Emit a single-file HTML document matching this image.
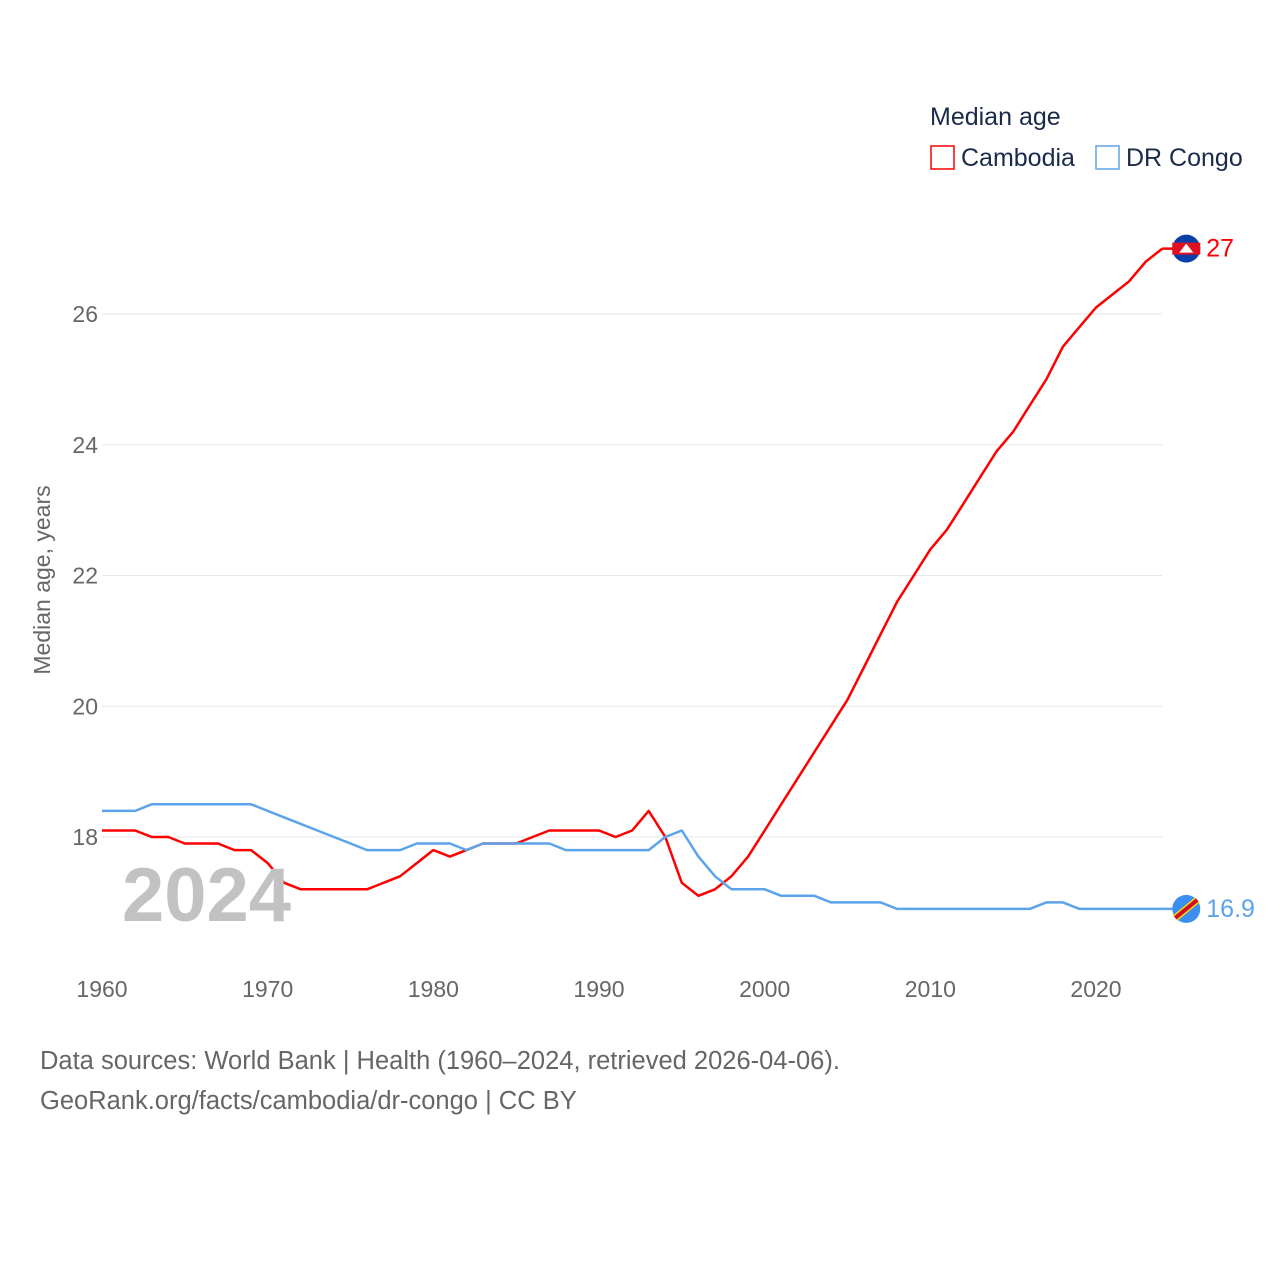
<!DOCTYPE html>
<html><head><meta charset="utf-8"><style>
body{margin:0;background:#fff;font-family:"Liberation Sans",sans-serif}
svg text{font-family:"Liberation Sans",sans-serif}
</style></head><body>
<svg width="1280" height="1280" viewBox="0 0 1280 1280">
<g id="grid"></g><g id="axes"></g><g id="lines"></g>
<text x="122" y="921" font-size="76" font-weight="bold" fill="#c2c2c2">2024</text>
<text transform="translate(50,580) rotate(-90)" text-anchor="middle" font-size="23" fill="#666">Median age, years</text>
<text x="930" y="125" font-size="25" fill="#1a2a4a">Median age</text>
<g><rect x="931" y="146" width="23" height="23" fill="none" stroke="#ff0000" stroke-width="1.5"/><text x="961" y="166" font-size="25" fill="#1a2a4a">Cambodia</text></g>
<g><rect x="1096" y="146" width="23" height="23" fill="none" stroke="#5ba4ec" stroke-width="1.5"/><text x="1126" y="166" font-size="25" fill="#1a2a4a">DR Congo</text></g>
<text x="40" y="1069" font-size="25.5" fill="#666">Data sources: World Bank | Health (1960–2024, retrieved 2026-04-06).</text>
<text x="40" y="1109" font-size="25.5" fill="#666">GeoRank.org/facts/cambodia/dr-congo | CC BY</text>
</svg>
<script>
const years=[];for(let y=1960;y<=2024;y++)years.push(y);
const cambodia=[18.1,18.1,18.1,18.0,18.0,17.9,17.9,17.9,17.8,17.8,17.6,17.3,17.2,17.2,17.2,17.2,17.2,17.3,17.4,17.6,17.8,17.7,17.8,17.9,17.9,17.9,18.0,18.1,18.1,18.1,18.1,18.0,18.1,18.4,18.0,17.3,17.1,17.2,17.4,17.7,18.1,18.5,18.9,19.3,19.7,20.1,20.6,21.1,21.6,22.0,22.4,22.7,23.1,23.5,23.9,24.2,24.6,25.0,25.5,25.8,26.1,26.3,26.5,26.8,27.0];
const drcongo=[18.4,18.4,18.4,18.5,18.5,18.5,18.5,18.5,18.5,18.5,18.4,18.3,18.2,18.1,18.0,17.9,17.8,17.8,17.8,17.9,17.9,17.9,17.8,17.9,17.9,17.9,17.9,17.9,17.8,17.8,17.8,17.8,17.8,17.8,18.0,18.1,17.7,17.4,17.2,17.2,17.2,17.1,17.1,17.1,17.0,17.0,17.0,17.0,16.9,16.9,16.9,16.9,16.9,16.9,16.9,16.9,16.9,17.0,17.0,16.9,16.9,16.9,16.9,16.9,16.9];
const yTicks=[18,20,22,24,26];
const xTicks=[1960,1970,1980,1990,2000,2010,2020];
const X=y=>102+(y-1960)*(1096-102)/60;
const Y=v=>837-(v-18)*(837-314)/8;
const NS="http://www.w3.org/2000/svg";
function mk(tag,attrs,parent,txt){const e=document.createElementNS(NS,tag);for(const k in attrs)e.setAttribute(k,attrs[k]);if(txt!==undefined)e.textContent=txt;parent.appendChild(e);return e;}
const grid=document.getElementById('grid'),axes=document.getElementById('axes'),lines=document.getElementById('lines');
yTicks.forEach(t=>{
 const l=mk('line',{x1:102,x2:1162,y1:Y(t),y2:Y(t),stroke:'#e6e6e6','stroke-width':1},grid);
 
 
 const tx=mk('text',{x:98,y:Y(t)+8,'text-anchor':'end','font-size':23,fill:'#666'},axes,String(t));
 
 
});
xTicks.forEach(t=>{
 const tx=mk('text',{x:X(t),y:997,'text-anchor':'middle','font-size':23,fill:'#666'},axes,String(t));
 
 
});
function series(vals,color,name){
 const d=vals.map((v,i)=>(i?'L':'M')+X(years[i]).toFixed(1)+','+Y(v).toFixed(1)).join('');
 const p=mk('path',{d:d,fill:'none',stroke:color,'stroke-width':2.5,'stroke-linejoin':'round'},lines);
 
 
 const lx=X(years[years.length-1]),lv=vals[vals.length-1];
 mk('line',{x1:lx,x2:lx+24,y1:Y(lv),y2:Y(lv),stroke:color,'stroke-width':2.5},lines);
 const c=mk('circle',{cx:lx+24,cy:Y(lv),r:14,fill:color==='#ff0000'?'#0a3fa8':'#3c8ff0'},lines);
 
 
 const t=mk('text',{x:lx+44,y:Y(lv)+8,'font-size':25,fill:color},lines,String(lv));
 
 
 return lx+24;
}
const cx1=series(cambodia,'#ff0000','cambodia');
mk('rect',{x:cx1-14,y:Y(27)-6,width:28,height:12,fill:'#e01020'},lines);
mk('path',{d:`M${cx1-7},${Y(27)+4}L${cx1},${Y(27)-5}L${cx1+7},${Y(27)+4}Z`,fill:'#fff'},lines);
const cx2=series(drcongo,'#5ba4ec','drcongo');
mk('line',{x1:cx2-11,y1:Y(16.9)+9,x2:cx2+11,y2:Y(16.9)-9,stroke:'#f7d618','stroke-width':7},lines);
mk('line',{x1:cx2-11,y1:Y(16.9)+9,x2:cx2+11,y2:Y(16.9)-9,stroke:'#ce1021','stroke-width':4},lines);
</script>
</body></html>
